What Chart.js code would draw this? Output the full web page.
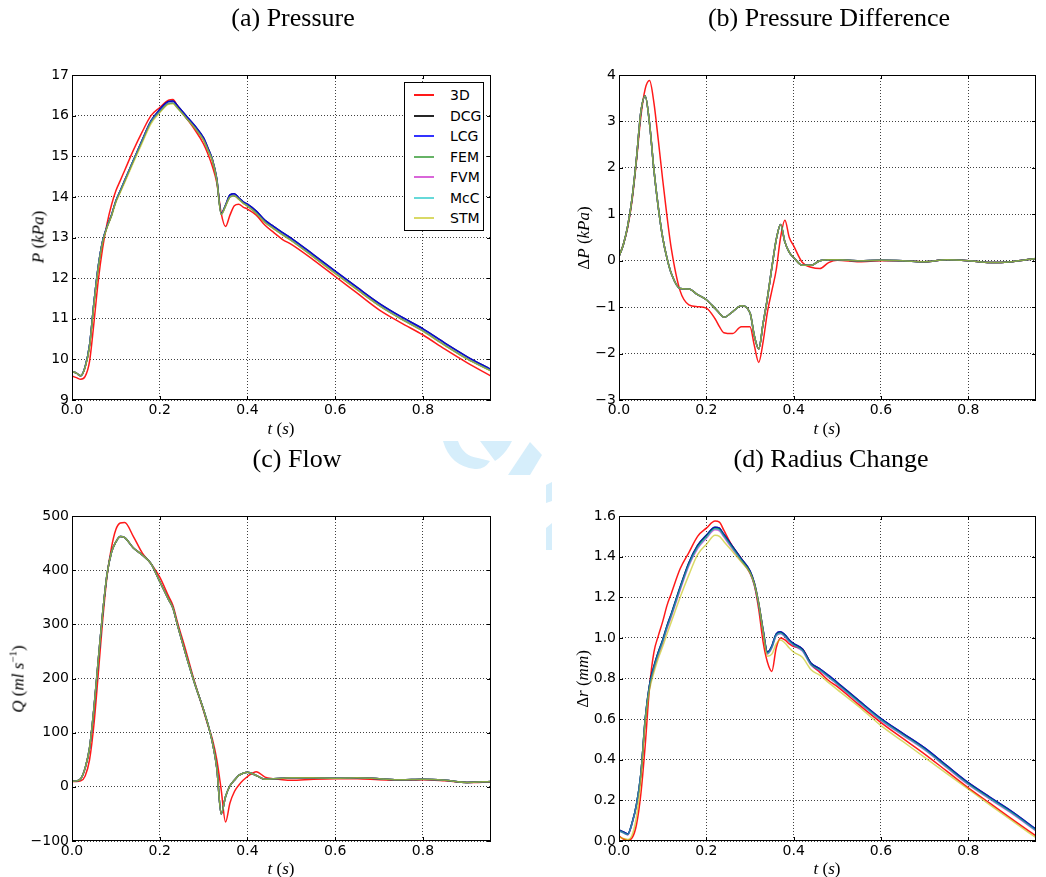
<!DOCTYPE html>
<html>
<head>
<meta charset="utf-8">
<script src="https://cdn.jsdelivr.net/npm/chart.js@4.4.0/dist/chart.umd.min.js"></script>
<style>
  body { margin: 0; background: #fff; }
  #fig { position: relative; width: 1046px; height: 877px; overflow: hidden; background: #fff; }
  #fig canvas { position: absolute; }
  .title { position: absolute; font-family: "Liberation Serif", serif; font-size: 26px; line-height: 26px; white-space: nowrap; transform: translateX(-50%); color: #000; }
  .xlab, .ylab { position: absolute; font-family: "Liberation Serif", serif; font-size: 17px; line-height: 17px; white-space: nowrap; color: #000; }
  .xlab { transform: translateX(-50%); }
  .ylab { transform: translate(-50%, -50%) rotate(-90deg); }
  .m { font-style: italic; }
  sup { font-size: 11px; line-height: 0; }
  #legend { position: absolute; left: 404px; top: 82px; width: 78px; height: 147px; border: 1px solid #000; background: #fff; font-family: "DejaVu Sans", sans-serif; font-size: 14px; }
  #legend .row { position: absolute; left: 0; height: 18px; line-height: 18px; }
  #legend .swatch { position: absolute; left: 9px; top: 8px; width: 20px; height: 2px; }
  #legend .name { position: absolute; left: 45px; top: 0; }
</style>
</head>
<body>
<div id="fig">
  <svg width="1046" height="877" style="position:absolute;left:0;top:0">
    <g fill="#d6eefb">
      <path d="M443,441 L458,441 Q463,456 478,458 L490,461 Q484,470 475,469 Q450,466 443,441 Z"/>
      <path d="M480,441 L512,441 Q505,455 495,461 Z"/>
      <path d="M530,442 L542,455 L530,475 L508,475 Z"/>
      <path d="M546,485 L552,482 L552,501 L546,503 Z"/>
      <path d="M546,528 L552,523 L552,550 L546,550 Z"/>
    </g>
  </svg>

  <canvas id="presChart" width="523" height="440" style="left:0;top:0"></canvas>
  <canvas id="dpChart" width="523" height="440" style="left:523px;top:0"></canvas>
  <canvas id="flowChart" width="523" height="437" style="left:0;top:440px"></canvas>
  <canvas id="radChart" width="523" height="437" style="left:523px;top:440px"></canvas>

  <div class="title" style="left:293px;top:5px">(a) Pressure</div>
  <div class="title" style="left:829px;top:5px">(b) Pressure Difference</div>
  <div class="title" style="left:297px;top:446px">(c) Flow</div>
  <div class="title" style="left:831px;top:446px">(d) Radius Change</div>

  <div class="xlab" style="left:281px;top:420px"><span class="m">t</span> (<span class="m">s</span>)</div>
  <div class="xlab" style="left:827px;top:420px"><span class="m">t</span> (<span class="m">s</span>)</div>
  <div class="xlab" style="left:281px;top:860px"><span class="m">t</span> (<span class="m">s</span>)</div>
  <div class="xlab" style="left:827px;top:860px"><span class="m">t</span> (<span class="m">s</span>)</div>

  <div class="ylab" style="left:38px;top:237px"><span class="m">P</span> (<span class="m">kPa</span>)</div>
  <div class="ylab" style="left:583px;top:238px">&Delta;<span class="m">P</span> (<span class="m">kPa</span>)</div>
  <div class="ylab" style="left:18px;top:679px"><span class="m">Q</span> (<span class="m">ml s</span><sup>&minus;1</sup>)</div>
  <div class="ylab" style="left:582px;top:679px">&Delta;<span class="m">r</span> (<span class="m">mm</span>)</div>

  <div id="legend"></div>
</div>

<script>
// time samples shared by every curve (s)
const time = [0, 0.01, 0.02, 0.03, 0.04, 0.05, 0.06, 0.07, 0.08, 0.09, 0.10, 0.11, 0.12, 0.14, 0.16, 0.18, 0.20, 0.22, 0.23, 0.24,
  0.26, 0.28, 0.30, 0.31, 0.32, 0.33, 0.34, 0.35, 0.36, 0.37, 0.38, 0.39, 0.40, 0.42, 0.44, 0.46, 0.48, 0.50,
  0.55, 0.60, 0.65, 0.70, 0.75, 0.80, 0.85, 0.90, 0.955];

const seriesNames = ["3D", "DCG", "LCG", "FEM", "FVM", "McC", "STM"];
const seriesColors = ["rgba(255,0,0,0.9)", "rgba(0,0,0,0.85)", "rgba(0,0,255,0.8)", "rgba(0,128,0,0.6)",
  "rgba(191,0,191,0.6)", "rgba(0,191,191,0.6)", "rgba(191,191,0,0.6)"];

// tick labels
const timeTicks = [0, 0.2, 0.4, 0.6, 0.8];
const presTicks = [9, 10, 11, 12, 13, 14, 15, 16, 17];
const dpTicks = [-3, -2, -1, 0, 1, 2, 3, 4];
const flowTicks = [-100, 0, 100, 200, 300, 400, 500];
const radTicks = [0, 0.2, 0.4, 0.6, 0.8, 1.0, 1.2, 1.4, 1.6];

// (a) pressure, kPa
const pres3D = [9.59, 9.55, 9.51, 9.58, 9.95, 10.9, 11.95, 12.75, 13.35, 13.8, 14.15, 14.4, 14.65, 15.15, 15.6, 16.0, 16.2, 16.38, 16.4, 16.25,
  15.95, 15.65, 15.3, 15.05, 14.75, 14.35, 13.6, 13.27, 13.55, 13.78, 13.82, 13.75, 13.7, 13.55, 13.3, 13.12, 12.95, 12.83,
  12.45, 12.04, 11.63, 11.22, 10.9, 10.6, 10.25, 9.92, 9.59];
const presLCG = [9.70, 9.66, 9.60, 9.82, 10.35, 11.4, 12.3, 12.92, 13.27, 13.55, 13.9, 14.15, 14.4, 14.9, 15.4, 15.87, 16.15, 16.35, 16.36, 16.25,
  16.0, 15.75, 15.45, 15.2, 14.92, 14.45, 13.6, 13.8, 14.05, 14.08, 13.98, 13.88, 13.82, 13.65, 13.42, 13.27, 13.12, 12.98,
  12.58, 12.17, 11.77, 11.38, 11.05, 10.75, 10.4, 10.07, 9.75];
const presFEM = [9.70, 9.66, 9.60, 9.82, 10.35, 11.4, 12.3, 12.92, 13.27, 13.55, 13.9, 14.15, 14.4, 14.9, 15.38, 15.85, 16.1, 16.3, 16.31, 16.2,
  15.95, 15.7, 15.4, 15.15, 14.9, 14.42, 13.57, 13.78, 14.0, 14.03, 13.95, 13.85, 13.78, 13.6, 13.38, 13.22, 13.07, 12.93,
  12.53, 12.12, 11.72, 11.33, 11.0, 10.7, 10.35, 10.02, 9.72];
const presSTM = [9.70, 9.66, 9.60, 9.80, 10.3, 11.33, 12.24, 12.88, 13.24, 13.52, 13.86, 14.1, 14.35, 14.85, 15.33, 15.8, 16.07, 16.28, 16.29, 16.19,
  15.94, 15.69, 15.39, 15.14, 14.89, 14.41, 13.57, 13.77, 13.99, 14.02, 13.94, 13.84, 13.77, 13.59, 13.37, 13.21, 13.06, 12.92,
  12.52, 12.11, 11.71, 11.32, 10.99, 10.69, 10.34, 10.01, 9.71];

// (b) pressure difference, kPa
const dp3D = [0.09, 0.35, 0.72, 1.3, 2.15, 3.1, 3.7, 3.88, 3.4, 2.6, 1.75, 0.95, 0.25, -0.65, -0.95, -0.99, -1.02, -1.25, -1.42, -1.55,
  -1.57, -1.42, -1.42, -1.83, -2.19, -1.75, -1.1, -0.65, -0.2, 0.5, 0.87, 0.5, 0.32, -0.04, -0.14, -0.17, -0.04, 0.01,
  -0.02, 0.0, 0.0, -0.02, 0.02, 0.0, -0.04, -0.02, 0.05];
const dpModel = [0.09, 0.35, 0.75, 1.35, 2.2, 3.2, 3.55, 2.95, 1.95, 1.15, 0.5, 0.05, -0.28, -0.6, -0.61, -0.73, -0.84, -1.03, -1.13, -1.22,
  -1.1, -0.97, -1.12, -1.62, -1.9, -1.35, -0.8, -0.15, 0.45, 0.78, 0.4, 0.18, 0.07, -0.1, -0.1, 0.0, 0.02, 0.02,
  0.0, 0.01, 0.0, -0.02, 0.02, 0.0, -0.04, -0.02, 0.05];

// (c) flow, ml/s
const flow3D = [10, 10, 11, 20, 50, 115, 210, 308, 390, 442, 475, 487, 488, 462, 432, 412, 387, 352, 335, 305,
  250, 192, 140, 113, 88, 50, -5, -65, -30, -9, 3, 12, 19, 28, 18, 15, 13, 12,
  14, 15, 15, 13, 12, 13, 11, 8, 9];
const flowModel = [10, 11, 15, 35, 72, 145, 235, 322, 393, 433, 452, 462, 460, 441, 428, 412, 379, 346, 330, 300,
  243, 190, 142, 115, 82, 35, -50, -18, 2, 12, 21, 25, 27, 21, 14, 15, 16, 17,
  17, 16, 17, 15, 13, 14, 12, 8, 10];

// (d) radius change, mm
const rad3D = [0.025, 0.01, 0.003, 0.015, 0.08, 0.23, 0.47, 0.76, 0.93, 1.01, 1.08, 1.16, 1.22, 1.34, 1.42, 1.5, 1.54, 1.575, 1.57, 1.53,
  1.45, 1.39, 1.32, 1.26, 1.14, 0.98, 0.88, 0.835, 0.95, 1.0, 0.99, 0.97, 0.957, 0.945, 0.87, 0.83, 0.79, 0.76,
  0.67, 0.583, 0.505, 0.428, 0.345, 0.262, 0.185, 0.108, 0.025];
const radLCG = [0.055, 0.045, 0.035, 0.09, 0.18, 0.33, 0.6, 0.77, 0.86, 0.93, 0.99, 1.06, 1.12, 1.25, 1.37, 1.455, 1.505, 1.545, 1.54, 1.51,
  1.45, 1.39, 1.33, 1.27, 1.17, 1.04, 0.93, 0.96, 1.02, 1.03, 1.015, 0.99, 0.972, 0.945, 0.875, 0.848, 0.815, 0.78,
  0.69, 0.603, 0.53, 0.458, 0.372, 0.287, 0.215, 0.145, 0.058];
const radFEM = [0.052, 0.042, 0.032, 0.088, 0.18, 0.33, 0.6, 0.765, 0.855, 0.925, 0.985, 1.055, 1.115, 1.245, 1.365, 1.45, 1.5, 1.54, 1.535, 1.505,
  1.445, 1.385, 1.325, 1.265, 1.165, 1.035, 0.925, 0.955, 1.015, 1.025, 1.01, 0.985, 0.967, 0.94, 0.87, 0.843, 0.81, 0.775,
  0.685, 0.598, 0.525, 0.453, 0.367, 0.282, 0.21, 0.14, 0.053];
const radFVM = [0.05, 0.04, 0.03, 0.085, 0.175, 0.325, 0.59, 0.755, 0.845, 0.915, 0.975, 1.045, 1.105, 1.235, 1.355, 1.44, 1.49, 1.532, 1.527, 1.497,
  1.437, 1.378, 1.318, 1.258, 1.16, 1.03, 0.92, 0.95, 1.01, 1.02, 1.005, 0.98, 0.962, 0.935, 0.865, 0.838, 0.805, 0.77,
  0.68, 0.593, 0.52, 0.448, 0.362, 0.277, 0.205, 0.135, 0.05];
const radMcC = [0.05, 0.04, 0.032, 0.088, 0.178, 0.33, 0.6, 0.762, 0.852, 0.922, 0.982, 1.052, 1.112, 1.242, 1.36, 1.445, 1.495, 1.537, 1.532, 1.502,
  1.442, 1.382, 1.322, 1.262, 1.163, 1.033, 0.923, 0.953, 1.013, 1.023, 1.008, 0.983, 0.965, 0.938, 0.868, 0.841, 0.808, 0.773,
  0.683, 0.596, 0.523, 0.451, 0.365, 0.28, 0.208, 0.138, 0.052];
const radSTM = [0.02, 0.012, 0.008, 0.03, 0.12, 0.3, 0.58, 0.745, 0.83, 0.9, 0.957, 1.02, 1.08, 1.2, 1.31, 1.41, 1.46, 1.505, 1.5, 1.475,
  1.425, 1.375, 1.32, 1.265, 1.17, 1.03, 0.91, 0.92, 0.97, 0.99, 0.975, 0.95, 0.93, 0.905, 0.843, 0.815, 0.78, 0.745,
  0.66, 0.568, 0.49, 0.412, 0.333, 0.255, 0.177, 0.1, 0.016];

function fmt(v, digits) {
  const s = Math.abs(v).toFixed(digits);
  return v < 0 ? "\u2212" + s : s;
}

// matplotlib-like box with inward ticks on all four sides
const frame = {
  id: "frame",
  afterDraw(chart) {
    const { ctx, chartArea: a, scales } = chart;
    ctx.save();
    ctx.strokeStyle = "#000";
    ctx.lineWidth = 1;
    ctx.strokeRect(a.left + 0.5, a.top + 0.5, a.right - a.left - 1, a.bottom - a.top - 1);
    ctx.beginPath();
    scales.x.ticks.forEach((tk) => {
      const x = Math.round(scales.x.getPixelForValue(tk.value)) + 0.5;
      ctx.moveTo(x, a.bottom); ctx.lineTo(x, a.bottom - 4);
      ctx.moveTo(x, a.top); ctx.lineTo(x, a.top + 4);
    });
    scales.y.ticks.forEach((tk) => {
      const y = Math.round(scales.y.getPixelForValue(tk.value)) + 0.5;
      ctx.moveTo(a.left, y); ctx.lineTo(a.left + 4, y);
      ctx.moveTo(a.right, y); ctx.lineTo(a.right - 4, y);
    });
    ctx.stroke();
    ctx.restore();
  },
};

function axis(tickList, digits, extra) {
  return Object.assign({
    type: "linear",
    min: tickList[0],
    max: tickList[tickList.length - 1],
    afterBuildTicks: (s) => { s.ticks = tickList.map((v) => ({ value: v })); },
    ticks: {
      autoSkip: false, maxRotation: 0, padding: 3, color: "#000",
      font: { family: "DejaVu Sans", size: 14 },
      callback: (v) => fmt(v, digits),
    },
    grid: { color: "rgba(0,0,0,0.75)", lineWidth: 1, drawTicks: false },
    border: { display: false, dash: [1, 2] },
  }, extra);
}

function makePanel(id, seriesValues, yTicks, yDigits, yWidth, padding) {
  const datasets = seriesNames.map((name, i) => ({
    label: name,
    data: time.map((t, k) => ({ x: t, y: seriesValues[i][k] })),
    borderColor: seriesColors[i],
    borderWidth: 1.5,
    pointRadius: 0,
    fill: false,
    cubicInterpolationMode: "monotone",
    order: seriesNames.length - 1 - i,
  }));
  return new Chart(document.getElementById(id), {
    type: "line",
    data: { datasets },
    options: {
      responsive: false,
      animation: false,
      events: [],
      layout: { padding },
      plugins: { legend: { display: false }, tooltip: { enabled: false } },
      scales: {
        x: axis(timeTicks, 1, { max: 0.955, afterFit: (s) => { s.height = 30; }, ticks: {
          autoSkip: false, maxRotation: 0, padding: 2, color: "#000",
          font: { family: "DejaVu Sans", size: 14 }, callback: (v) => fmt(v, 1) } }),
        y: axis(yTicks, yDigits, { afterFit: (s) => { s.width = yWidth; } }),
      },
    },
    plugins: [frame],
  });
}

makePanel("presChart", [pres3D, presLCG, presLCG, presFEM, presFEM, presFEM, presSTM], presTicks, 0, 72,
  { top: 75, right: 32, bottom: 10, left: 0 });
makePanel("dpChart", [dp3D, dpModel, dpModel, dpModel, dpModel, dpModel, dpModel], dpTicks, 0, 96,
  { top: 75, right: 10, bottom: 10, left: 0 });
makePanel("flowChart", [flow3D, flowModel, flowModel, flowModel, flowModel, flowModel, flowModel], flowTicks, 0, 72,
  { top: 76, right: 32, bottom: 6, left: 0 });
makePanel("radChart", [rad3D, radLCG, radLCG, radFEM, radFVM, radMcC, radSTM], radTicks, 1, 96,
  { top: 76, right: 10, bottom: 6, left: 0 });

// legend for panel (a)
const legend = document.getElementById("legend");
seriesNames.forEach((name, i) => {
  const row = document.createElement("div");
  row.className = "row";
  row.style.top = (3 + i * 20.5) + "px";
  row.style.width = "78px";
  row.innerHTML = '<div class="swatch" style="background:' + seriesColors[i] + '"></div><div class="name">' + name + "</div>";
  legend.appendChild(row);
});
</script>
</body>
</html>
